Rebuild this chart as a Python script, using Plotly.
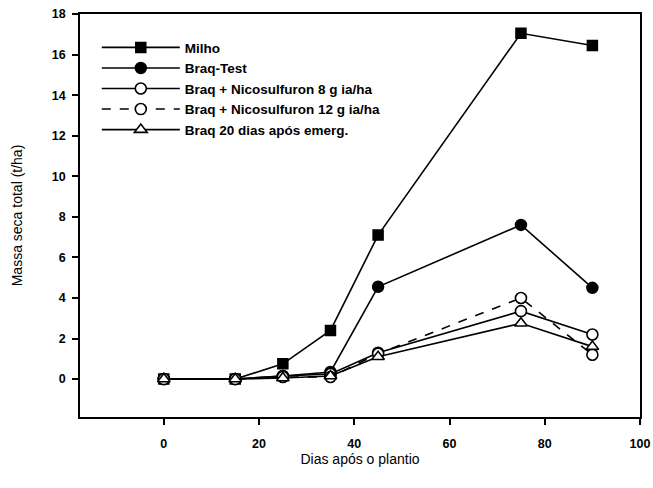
import plotly.graph_objects as go

dias = [0, 15, 25, 35, 45, 75, 90]
milho = [0, 0, 0.75, 2.4, 7.1, 17.05, 16.45]
braq_test = [0, 0, 0.15, 0.35, 4.55, 7.6, 4.5]
nic8 = [0, 0, 0.15, 0.25, 1.3, 3.35, 2.2]
nic12 = [0, 0, 0.1, 0.1, 1.25, 4.0, 1.2]
braq20 = [0, 0, 0.05, 0.15, 1.1, 2.75, 1.6]

series_names = [
    "Milho",
    "Braq-Test",
    "Braq + Nicosulfuron 8 g ia/ha",
    "Braq + Nicosulfuron 12 g ia/ha",
    "Braq 20 dias após emerg.",
]
x_ticks = [0, 20, 40, 60, 80, 100]
y_ticks = [0, 2, 4, 6, 8, 10, 12, 14, 16, 18]

FONT = "Liberation Sans, Arial, sans-serif"

fig = go.Figure()

styles = [
    (milho, dict(symbol="square", size=10, color="black", line=dict(color="black", width=1.5)), "solid"),
    (braq_test, dict(symbol="circle", size=11, color="black", line=dict(color="black", width=1.5)), "solid"),
    (nic8, dict(symbol="circle", size=11, color="white", line=dict(color="black", width=1.6)), "solid"),
    (nic12, dict(symbol="circle", size=11, color="white", line=dict(color="black", width=1.6)), "dash"),
    (braq20, dict(symbol="triangle-up", size=11, color="white", line=dict(color="black", width=1.6)), "solid"),
]

for name, (vals, mk, dash) in zip(series_names, styles):
    fig.add_trace(go.Scatter(
        x=dias, y=vals, name=name, mode="lines+markers",
        line=dict(color="black", width=1.6, dash=dash),
        marker=mk,
    ))

fig.update_layout(
    width=653, height=488,
    margin=dict(l=80, r=13, t=14, b=71),
    paper_bgcolor="white", plot_bgcolor="white",
    font=dict(family=FONT, color="black"),
    showlegend=True,
    legend=dict(
        x=0.03, y=0.955, xanchor="left", yanchor="top",
        bgcolor="rgba(0,0,0,0)", borderwidth=0,
        font=dict(family=FONT, size=13.5, weight="bold", color="black"),
        itemwidth=78, tracegroupgap=0,
    ),
    xaxis=dict(
        range=[-17.6, 100], tickvals=x_ticks, ticktext=[str(v) for v in x_ticks],
        automargin=False,
        showgrid=False, zeroline=False, showline=True, linecolor="black", linewidth=1.6,
        mirror=True, ticks="outside", ticklen=6, tickwidth=1.6, tickcolor="black",
        tickfont=dict(family=FONT, size=12.5, weight="bold"), ticklabelstandoff=8,
        title=dict(text="Dias após o plantio", font=dict(family=FONT, size=14), standoff=1),
    ),
    yaxis=dict(
        range=[-1.87, 18], tickvals=y_ticks, ticktext=[str(v) for v in y_ticks],
        automargin=False,
        showgrid=False, zeroline=False, showline=True, linecolor="black", linewidth=1.6,
        mirror=True, ticks="outside", ticklen=6, tickwidth=1.6, tickcolor="black",
        tickfont=dict(family=FONT, size=12.5, weight="bold"), ticklabelstandoff=4,
        title=dict(text="Massa seca total (t/ha)", font=dict(family=FONT, size=14), standoff=26),
    ),
)

fig.write_html("out.html")
